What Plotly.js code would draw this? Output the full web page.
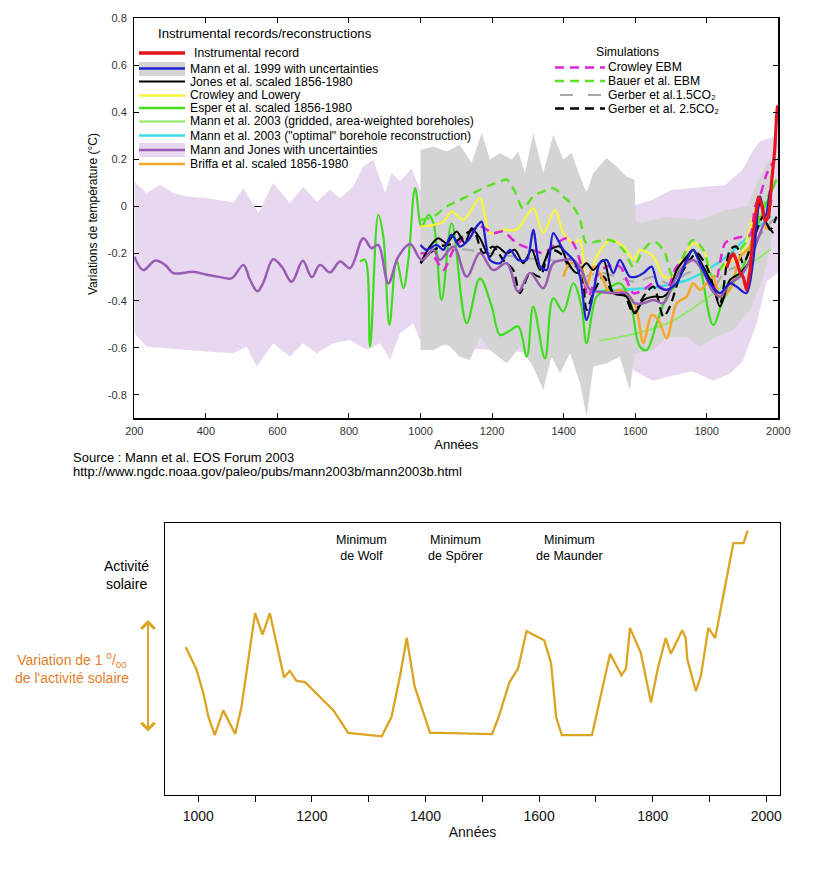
<!DOCTYPE html>
<html><head><meta charset="utf-8">
<script src="https://cdn.plot.ly/plotly-3.0.1.min.js"></script>
<style>html,body{margin:0;padding:0;background:#fff}#chart{width:820px;height:883px}</style>
</head><body><div id="chart"></div>
<script>
// ---------------- TOP CHART DATA (temperature anomalies, °C) ----------------
const mannJonesBandUpperYears = [200,234,272,309,346,402,477,505,547,588,635,672,710,747,775,812,840,868,901,919,943,975,998,1050,1200,1400,1550,1600,1650,1700,1800,1850,1900,1930,1950,1975,2000];
const mannJonesBandUpper      = [0.106,0.057,0.092,0.057,0.043,0.036,0.017,0.078,-0.028,0.1,0.014,0.085,0.021,0.071,0.036,0.085,0.17,0.199,0.057,0.142,0.106,0.163,0.071,0.1,0.1,0.08,0.05,0.007,0.03,0.07,0.085,0.09,0.156,0.24,0.28,0.29,0.3];
const mannJonesBandLowerYears = [200,234,290,346,411,477,514,542,588,635,672,710,756,803,849,887,915,943,980,998,1100,1300,1450,1550,1600,1650,1700,1760,1818,1865,1900,1939,1967,2000];
const mannJonesBandLower      = [-0.539,-0.596,-0.603,-0.61,-0.617,-0.624,-0.596,-0.681,-0.581,-0.638,-0.581,-0.624,-0.581,-0.567,-0.61,-0.581,-0.652,-0.539,-0.496,-0.567,-0.6,-0.62,-0.62,-0.62,-0.7,-0.74,-0.72,-0.7,-0.74,-0.71,-0.66,-0.5,-0.32,-0.28];

const mann1999BandUpperYears = [1000,1036,1073,1110,1143,1171,1194,1222,1255,1273,1292,1315,1343,1371,1399,1422,1446,1464,1483,1520,1548,1576,1598,1602,1613,1688,1781,1856,1912,1949,1968,1980];
const mann1999BandUpper      = [0.241,0.255,0.234,0.263,0.185,0.312,0.199,0.227,0.199,0.234,0.142,0.312,0.142,0.305,0.199,0.227,0.128,0.057,0.142,0.206,0.17,0.128,0.114,-0.06,-0.07,-0.043,-0.057,-0.014,0.0,0.128,0.185,0.2];
const mann1999BandLowerYears = [1000,1036,1073,1110,1138,1166,1194,1241,1278,1315,1343,1366,1390,1418,1446,1464,1483,1520,1557,1585,1599,1651,1688,1744,1781,1828,1874,1921,1958,1977,1980];
const mann1999BandLower      = [-0.61,-0.61,-0.581,-0.638,-0.652,-0.553,-0.61,-0.666,-0.596,-0.681,-0.78,-0.638,-0.709,-0.624,-0.751,-0.894,-0.681,-0.666,-0.638,-0.78,-0.624,-0.61,-0.553,-0.553,-0.596,-0.553,-0.525,-0.44,-0.298,-0.184,-0.15];

const mannJonesYears  = [200,225,258,286,309,346,365,402,440,472,505,523,544,560,588,612,640,671,696,719,747,775,803,840,863,882,910,938,971,1003,1036,1054,1092,1129,1166,1203,1241,1273,1306,1343,1371,1399,1427,1450,1474,1502,1539,1576,1599,1623,1651,1679,1706,1734,1762,1790,1818,1837,1865,1893,1921,1949,1968,1981];
const mannJonesValues = [-0.213,-0.27,-0.23,-0.248,-0.283,-0.28,-0.277,-0.29,-0.3,-0.305,-0.248,-0.31,-0.36,-0.326,-0.224,-0.255,-0.32,-0.23,-0.3,-0.248,-0.28,-0.234,-0.262,-0.135,-0.177,-0.163,-0.326,-0.213,-0.159,-0.227,-0.184,-0.227,-0.17,-0.298,-0.198,-0.27,-0.241,-0.362,-0.283,-0.347,-0.241,-0.227,-0.227,-0.27,-0.354,-0.362,-0.368,-0.368,-0.411,-0.411,-0.397,-0.411,-0.326,-0.255,-0.227,-0.277,-0.362,-0.383,-0.326,-0.298,-0.227,-0.113,-0.043,0.03];

const esperYears  = [831,845,859,882,896,913,933,952,966,985,1003,1022,1036,1059,1087,1129,1166,1199,1222,1245,1273,1297,1315,1348,1371,1399,1427,1450,1464,1492,1520,1557,1585,1613,1632,1660,1688,1716,1744,1762,1781,1818,1846,1874,1902,1930,1967,1995];
const esperValues = [-0.234,-0.227,-0.595,-0.035,-0.127,-0.503,-0.227,-0.347,-0.227,0.078,-0.085,-0.035,-0.07,-0.397,-0.071,-0.496,-0.305,-0.425,-0.546,-0.532,-0.51,-0.638,-0.425,-0.645,-0.39,-0.446,-0.326,-0.425,-0.581,-0.383,-0.354,-0.326,-0.397,-0.595,-0.61,-0.496,-0.383,-0.326,-0.227,-0.184,-0.255,-0.503,-0.397,-0.326,-0.255,-0.127,0.014,0.114];

const crowleyLoweryYears  = [1000,1036,1064,1087,1120,1166,1194,1231,1269,1315,1343,1376,1399,1427,1446,1464,1492,1530,1567,1595,1613,1651,1679,1706,1734,1762,1790,1818,1856,1893,1930,1949,1967];
const crowleyLoweryValues = [-0.085,-0.078,-0.064,-0.021,-0.057,0.036,-0.113,-0.099,-0.099,-0.007,-0.113,-0.014,-0.113,-0.156,-0.142,-0.34,-0.213,-0.142,-0.17,-0.227,-0.184,-0.213,-0.298,-0.298,-0.213,-0.156,-0.184,-0.298,-0.241,-0.213,-0.043,0.029,-0.085];

const mann1999Years  = [1000,1017,1045,1064,1087,1110,1134,1157,1171,1194,1222,1250,1273,1297,1315,1334,1353,1371,1399,1427,1446,1464,1483,1501,1520,1539,1557,1585,1604,1623,1646,1665,1688,1716,1744,1762,1781,1809,1837,1865,1883,1911,1930,1949,1963,1977];
const mann1999Values = [-0.163,-0.184,-0.163,-0.184,-0.12,-0.17,-0.142,-0.085,-0.064,-0.227,-0.241,-0.184,-0.227,-0.227,-0.099,-0.255,-0.27,-0.113,-0.184,-0.227,-0.298,-0.482,-0.368,-0.241,-0.227,-0.283,-0.227,-0.298,-0.298,-0.283,-0.255,-0.34,-0.354,-0.326,-0.227,-0.184,-0.241,-0.326,-0.368,-0.326,-0.34,-0.368,-0.227,0.043,-0.043,0.071];

const jonesYears  = [1000,1026,1050,1073,1101,1124,1143,1166,1194,1213,1241,1264,1287,1311,1334,1362,1390,1408,1436,1464,1483,1511,1539,1576,1599,1623,1651,1679,1697,1716,1744,1762,1790,1818,1837,1865,1893,1921,1949,1967,1986];
const jonesValues = [-0.241,-0.17,-0.135,-0.156,-0.106,-0.156,-0.092,-0.135,-0.213,-0.17,-0.199,-0.184,-0.241,-0.184,-0.27,-0.184,-0.17,-0.227,-0.283,-0.241,-0.27,-0.227,-0.368,-0.383,-0.454,-0.397,-0.383,-0.383,-0.354,-0.27,-0.213,-0.184,-0.255,-0.34,-0.425,-0.312,-0.283,-0.227,0.014,-0.071,-0.113];

const briffaYears  = [1399,1418,1446,1464,1483,1501,1530,1557,1585,1604,1623,1646,1665,1688,1716,1744,1762,1781,1818,1837,1865,1893,1921,1949,1967];
const briffaValues = [-0.298,-0.241,-0.255,-0.34,-0.255,-0.283,-0.368,-0.354,-0.383,-0.439,-0.581,-0.46,-0.482,-0.56,-0.411,-0.383,-0.326,-0.354,-0.298,-0.383,-0.354,-0.213,-0.17,0.043,-0.099];

const boreholeGridYears  = [1500,1600,1700,1800,1900,1980];
const boreholeGridValues = [-0.57,-0.54,-0.49,-0.39,-0.27,-0.18];

const boreholeOptYears  = [1500,1550,1600,1650,1700,1750,1800,1850,1900,1950,1980];
const boreholeOptValues = [-0.36,-0.355,-0.35,-0.345,-0.33,-0.31,-0.27,-0.22,-0.15,-0.08,-0.04];

const instrumentalYears  = [1856,1865,1874,1883,1893,1902,1911,1921,1930,1940,1944,1953,1963,1972,1981,1990,1995,1998];
const instrumentalValues = [-0.26,-0.22,-0.2,-0.23,-0.28,-0.3,-0.355,-0.27,-0.11,0.0,0.04,0.01,-0.06,-0.045,0.1,0.24,0.38,0.43];

const crowleyEbmYears  = [1000,1036,1064,1092,1129,1166,1203,1231,1269,1315,1343,1380,1408,1427,1450,1469,1492,1520,1557,1595,1623,1651,1688,1716,1753,1781,1818,1851,1870,1893,1921,1935,1950,1968,1990];
const crowleyEbmValues = [-0.198,-0.212,-0.27,-0.184,-0.12,-0.085,-0.113,-0.106,-0.156,-0.184,-0.198,-0.156,-0.135,-0.156,-0.255,-0.383,-0.298,-0.255,-0.255,-0.368,-0.354,-0.326,-0.354,-0.255,-0.227,-0.241,-0.354,-0.156,-0.14,-0.13,-0.12,0.0,0.05,0.14,0.2];

const bauerYears  = [1000,1036,1073,1110,1148,1185,1222,1241,1264,1287,1315,1343,1371,1399,1427,1446,1464,1492,1530,1567,1595,1623,1651,1679,1706,1734,1762,1790,1818,1856,1893,1930,1967,1995];
const bauerValues = [-0.057,-0.043,0.0,0.028,0.057,0.085,0.106,0.114,0.064,-0.007,0.043,0.064,0.078,0.043,0.0,-0.057,-0.156,-0.149,-0.142,-0.184,-0.255,-0.184,-0.149,-0.184,-0.298,-0.213,-0.142,-0.184,-0.298,-0.227,-0.184,-0.099,0.029,0.114];

const gerber15Years  = [1000,1100,1200,1300,1400,1450,1500,1600,1650,1700,1750,1800,1820,1850,1900,1950,1990];
const gerber15Values = [-0.2,-0.18,-0.2,-0.22,-0.24,-0.3,-0.28,-0.32,-0.3,-0.33,-0.28,-0.3,-0.34,-0.28,-0.24,-0.12,-0.05];

const gerber25Years  = [1000,1026,1054,1092,1129,1148,1175,1203,1231,1259,1278,1306,1334,1362,1390,1418,1446,1464,1483,1511,1539,1567,1595,1623,1651,1679,1697,1725,1753,1772,1800,1837,1865,1883,1902,1930,1958,1977,1995];
const gerber25Values = [-0.241,-0.198,-0.17,-0.156,-0.113,-0.099,-0.198,-0.17,-0.227,-0.27,-0.368,-0.283,-0.298,-0.184,-0.198,-0.255,-0.255,-0.439,-0.368,-0.298,-0.368,-0.368,-0.454,-0.383,-0.34,-0.468,-0.425,-0.298,-0.227,-0.198,-0.255,-0.411,-0.184,-0.17,-0.241,-0.142,-0.043,-0.099,-0.043];

const tempTickVals   = [-0.8,-0.6,-0.4,-0.2,0,0.2,0.4,0.6,0.8];
const tempTickText   = ['-0.8','-0.6','-0.4','-0.2','0','0.2','0.4','0.6','0.8'];
const yearTickVals   = [200,400,600,800,1000,1200,1400,1600,1800,2000];

const recLegendTitle = 'Instrumental records/reconstructions';
const recLegendLabels = ['Instrumental record','Mann et al. 1999 with uncertainties','Jones et al. scaled 1856-1980','Crowley and Lowery','Esper et al. scaled 1856-1980','Mann et al. 2003 (gridded, area-weighted boreholes)','Mann et al. 2003 ("optimal" borehole reconstruction)','Mann and Jones with uncertainties','Briffa et al. scaled 1856-1980'];
const simLegendTitle = 'Simulations';
const simLegendLabels = ['Crowley EBM','Bauer et al. EBM','Gerber et al.1.5CO₂','Gerber et al. 2.5CO₂'];

// ---------------- BOTTOM CHART DATA (solar activity, ‰ relative) ----------------
const solarYears  = [978,997,1009,1018,1029,1044,1065,1076,1100,1113,1126,1138,1151,1161,1173,1188,1214,1238,1264,1302,1323,1340,1355,1367,1381,1408,1425,1517,1528,1548,1563,1578,1609,1621,1630,1640,1693,1725,1745,1753,1760,1779,1797,1809,1823,1832,1852,1858,1861,1876,1885,1898,1910,1942,1960,1967];
const solarValues = [0.76,0.56,0.35,0.14,-0.02,0.20,-0.01,0.23,1.06,0.87,1.06,0.79,0.49,0.55,0.46,0.45,0.32,0.20,0.00,-0.02,-0.03,0.14,0.50,0.84,0.41,0.00,0.00,-0.01,0.13,0.45,0.57,0.90,0.82,0.62,0.14,-0.02,-0.02,0.70,0.51,0.57,0.93,0.71,0.27,0.57,0.84,0.70,0.91,0.84,0.65,0.37,0.51,0.93,0.84,1.68,1.68,1.79];
const solarTickVals = [1000,1200,1400,1600,1800,2000];
const minimaNames = ['Minimum<br>de Wolf','Minimum<br>de Spörer','Minimum<br>de Maunder'];
const minimaYears = [1288,1452,1654];

// ---------------- STYLES ----------------
const C = {
  red:'#e8141c', blue:'#1f1fd0', black:'#000000', yellow:'#f7f53c', green:'#3fdc1e',
  lightGreen:'#8ee86a', cyan:'#3fdbe6', purple:'#9a5bb5', orange:'#f5a62a',
  magenta:'#e022d8', bauer:'#5ee02a', gerberGrey:'#a8a8a8',
  lavender:'#e7d8ef', grey:'#d4d4d4', solar:'#dba422', solarText:'#e07f2a'
};
const W = 820, H = 883;
const PX = x => x / W;
const PY = y => 1 - y / H;
const FONT = 'Liberation Sans, Arial, Helvetica, sans-serif';
const LEG = 12.2;

function band(upX, upY, loX, loY, color){
  return {x: upX.concat(loX.slice().reverse()), y: upY.concat(loY.slice().reverse()),
    type:'scatter', mode:'lines', fill:'toself', fillcolor:color, line:{width:0, color:color},
    hoverinfo:'skip', xaxis:'x', yaxis:'y'};
}
function line(xs, ys, color, width, dash, smooth){
  return {x: xs, y: ys, type:'scatter', mode:'lines', xaxis:'x', yaxis:'y',
    line:{color:color, width:width, dash:dash||'solid', shape:'spline', smoothing:smooth==null?0.8:smooth}};
}

const traces = [
  band(mannJonesBandUpperYears, mannJonesBandUpper, mannJonesBandLowerYears, mannJonesBandLower, C.lavender),
  band(mann1999BandUpperYears, mann1999BandUpper, mann1999BandLowerYears, mann1999BandLower, C.grey),
  line(boreholeGridYears, boreholeGridValues, C.lightGreen, 1.8, 'solid', 1),
  line(boreholeOptYears, boreholeOptValues, C.cyan, 2.5, 'solid', 1),
  line(gerber15Years, gerber15Values, C.gerberGrey, 2, '12px,9px'),
  line(esperYears, esperValues, C.green, 2.2, 'solid', 1),
  line(crowleyLoweryYears, crowleyLoweryValues, C.yellow, 2.2),
  line(bauerYears, bauerValues, C.bauer, 2.5, '9px,6px', 1),
  line(crowleyEbmYears, crowleyEbmValues, C.magenta, 2.5, '9px,6px'),
  line(gerber25Years, gerber25Values, C.black, 2.2, '9px,5px'),
  line(briffaYears, briffaValues, C.orange, 2.5),
  line(jonesYears, jonesValues, C.black, 2),
  line(mannJonesYears, mannJonesValues, C.purple, 2.5, 'solid', 1),
  line(mann1999Years, mann1999Values, C.blue, 2.3),
  line(instrumentalYears, instrumentalValues, C.red, 3.2, 'solid', 0.5),
  {x: solarYears, y: solarValues, type:'scatter', mode:'lines', xaxis:'x2', yaxis:'y2',
   line:{color:C.solar, width:2.3}}
];

// ---------------- LEGENDS (drawn in paper space) ----------------
const shapes = [];
const annotations = [];
function txt(text, x, y, opts){
  annotations.push(Object.assign({text:text, xref:'paper', yref:'paper', x:PX(x), y:PY(y),
    xanchor:'left', yanchor:'middle', showarrow:false, borderpad:0, font:{family:FONT, size:LEG, color:'#000'}}, opts||{}));
}
function seg(x0, x1, y, color, width, dash){
  shapes.push({type:'line', xref:'paper', yref:'paper', x0:PX(x0), x1:PX(x1), y0:PY(y), y1:PY(y),
    line:{color:color, width:width, dash:dash||'solid'}});
}
function rect(x0, x1, y0, y1, color){
  shapes.push({type:'rect', xref:'paper', yref:'paper', x0:PX(x0), x1:PX(x1), y0:PY(y1), y1:PY(y0),
    fillcolor:color, line:{width:0}});
}
txt(recLegendTitle, 157, 33, {font:{family:FONT, size:13.2, color:'#000'}});
const recRows = [53, 68.5, 81.5, 95.5, 108, 121.5, 135.5, 150, 164];
const recStyles = [[C.red,3.5],[C.blue,2.5],[C.black,2],[C.yellow,2.5],[C.green,2.5],[C.lightGreen,2],[C.cyan,2.5],[C.purple,2.5],[C.orange,2.5]];
rect(139, 185, 62, 76, C.grey);
rect(139, 185, 143, 157, C.lavender);
recLegendLabels.forEach((lab, i) => {
  seg(139, 185, recRows[i], recStyles[i][0], recStyles[i][1]);
  txt(lab, i === 0 ? 193 : 189, recRows[i]);
});
txt(simLegendTitle, 595, 52);
const simRows = [67.5, 81, 95, 108.5];
const simStyles = [[C.magenta,2.5,'9px,6px'],[C.bauer,2.5,'9px,6px'],[C.gerberGrey,2,'13px,15px'],[C.black,2.5,'9px,6px']];
simLegendLabels.forEach((lab, i) => {
  seg(i === 2 ? 560 : 555, 605, simRows[i], simStyles[i][0], simStyles[i][1], simStyles[i][2]);
  txt(lab, 607, simRows[i]);
});

// axis title and source
annotations.push({text:'Variations de température (°C)', xref:'paper', yref:'paper', x:PX(93), y:PY(214),
  textangle:-90, showarrow:false, xanchor:'center', yanchor:'middle', font:{family:FONT, size:12, color:'#000'}});
txt('Source : Mann et al. EOS Forum 2003', 72, 458, {font:{family:FONT, size:13, color:'#000'}});
txt('http://www.ngdc.noaa.gov/paleo/pubs/mann2003b/mann2003b.html', 72, 471, {font:{family:FONT, size:13, color:'#000'}});

// bottom chart texts
minimaNames.forEach((n, i) => {
  annotations.push({text:n, xref:'x2', yref:'paper', x:minimaYears[i], y:PY(548), xanchor:'center', yanchor:'middle',
    showarrow:false, align:'center', font:{family:FONT, size:12.5, color:'#000'}});
});
annotations.push({text:'Activité<br>solaire', xref:'paper', yref:'paper', x:PX(126), y:PY(575),
  xanchor:'center', yanchor:'middle', showarrow:false, align:'center', font:{family:FONT, size:14, color:'#000'}});
annotations.push({text:'Variation de 1 <sup>0</sup>/<sub>00</sub><br>de l\'activité solaire', xref:'paper', yref:'paper', x:PX(72), y:PY(668),
  xanchor:'center', yanchor:'middle', showarrow:false, align:'center', font:{family:FONT, size:14, color:C.solarText}});
annotations.push({text:'', xref:'paper', yref:'paper', x:PX(148), y:PY(620), axref:'pixel', ayref:'pixel', ax:0, ay:113,
  showarrow:true, arrowside:'end+start', arrowhead:4, startarrowhead:4, arrowsize:1.3, startarrowsize:1.3,
  arrowwidth:2, arrowcolor:C.solar});

const layout = {
  width: W, height: H, margin:{l:0, r:0, t:0, b:0},
  paper_bgcolor:'#fff', plot_bgcolor:'rgba(0,0,0,0)', showlegend:false,
  font:{family:FONT, size:12, color:'#000'},
  xaxis:{domain:[134.3/W, 778.3/W], range:[200,2000], anchor:'y', tickvals:yearTickVals,
    ticks:'inside', ticklen:5, tickcolor:'#000', showline:true, linecolor:'#000', linewidth:1.3, mirror:'ticks',
    showgrid:false, zeroline:false, tickfont:{size:11, color:'#333'}, ticklabelstandoff:2,
    title:{text:'Années', font:{size:13, color:'#000'}, standoff:4}},
  yaxis:{domain:[1-418.3/H, 1-18.3/H], range:[-0.9,0.8], anchor:'x', tickvals:tempTickVals, ticktext:tempTickText,
    ticks:'inside', ticklen:5, tickcolor:'#000', showline:true, linecolor:'#000', linewidth:1.3, mirror:'ticks',
    showgrid:false, zeroline:true, zerolinecolor:'#000', zerolinewidth:1, tickfont:{size:11, color:'#333'}, ticklabelstandoff:4},
  xaxis2:{domain:[165/W, 780/W], range:[941.4, 2024.1], anchor:'y2', tickvals:solarTickVals,
    ticks:'outside', ticklen:6, tickcolor:'#000', showline:true, linecolor:'#000', linewidth:1.3, mirror:true,
    minor:{tickmode:'linear', tick0:1000, dtick:100, ticks:'outside', ticklen:6, tickcolor:'#000', showgrid:false},
    showgrid:false, zeroline:false, tickfont:{size:14, color:'#111'}, ticklabelstandoff:2,
    title:{text:'Années', font:{size:14, color:'#111'}, standoff:4}},
  yaxis2:{domain:[1-795/H, 1-523/H], range:[-0.549, 1.858], anchor:'x2', showticklabels:false, ticks:'',
    showline:true, linecolor:'#000', linewidth:1.3, mirror:true, showgrid:false, zeroline:false},
  shapes: shapes, annotations: annotations
};
Plotly.newPlot('chart', traces, layout, {staticPlot:true, displayModeBar:false});
</script></body></html>
